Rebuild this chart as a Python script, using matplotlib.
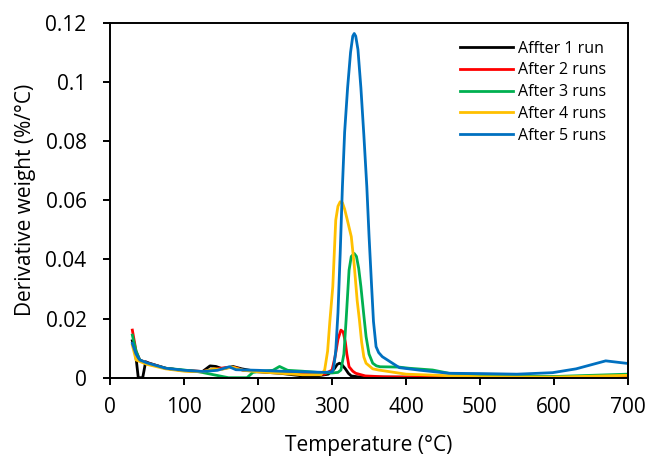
import matplotlib
matplotlib.use('Agg')
import matplotlib.pyplot as plt

plt.rcParams['font.family'] = ['Open Sans', 'DejaVu Sans']

# Derivative weight curves (T in degC, y in %/degC)
t_run1 = [30, 34, 38, 44, 48, 53, 75, 100, 125, 135, 143, 152, 166, 178, 200,
          230, 260, 280, 295, 303, 307, 310, 313, 318, 322, 326, 335, 360, 400,
          500, 600, 700]
y_run1 = [0.0125, 0.009, 0.0, 0.0, 0.0054, 0.0049, 0.0032, 0.0024, 0.0021, 0.004,
          0.0038, 0.003, 0.0038, 0.003, 0.002, 0.0015, 0.0006, 0.0006, 0.0012, 0.003,
          0.0045, 0.0049, 0.0045, 0.003, 0.0015, 0.0006, 0.0003, 0.0002, 0.0002,
          0.0002, 0.0002, 0.0003]

t_run2 = [30, 35, 40, 50, 75, 100, 125, 140, 155, 168, 180, 200, 230, 260, 290,
          300, 304, 308, 312, 315, 318, 320, 323, 328, 332, 345, 370, 400, 500, 600, 700]
y_run2 = [0.0161, 0.009, 0.006, 0.005, 0.0032, 0.0024, 0.0021, 0.0028, 0.0034, 0.0035,
          0.0025, 0.0022, 0.0018, 0.0012, 0.0012, 0.0026, 0.007, 0.013, 0.0161, 0.0155,
          0.012, 0.008, 0.0037, 0.0022, 0.0015, 0.0006, 0.0003, 0.0002, 0.0001, 0.0001,
          0.0003]

t_run3 = [30, 35, 40, 50, 75, 100, 120, 130, 150, 160, 185, 193, 205, 220, 229,
          240, 260, 280, 300, 308, 312, 316, 319, 323, 326, 330, 333, 336, 339, 343,
          346, 350, 355, 360, 365, 390, 404, 436, 458, 500, 600, 700]
y_run3 = [0.0144, 0.009, 0.006, 0.0048, 0.0032, 0.0026, 0.002, 0.0015, 0.0005, 0.0, 0.0,
          0.0018, 0.0022, 0.0025, 0.0038, 0.0025, 0.0022, 0.0018, 0.0016, 0.0018, 0.0026,
          0.008, 0.0195, 0.0364, 0.041, 0.042, 0.041, 0.037, 0.0308, 0.021, 0.0139,
          0.008, 0.0049, 0.004, 0.0037, 0.0036, 0.0032, 0.0026, 0.0015, 0.0006, 0.0004,
          0.0012]

t_run4 = [30, 35, 40, 50, 75, 100, 125, 140, 150, 165, 180, 200, 230, 260, 285,
          290, 294, 297, 301, 305, 308, 311, 314, 317, 320, 326, 330, 334, 337, 340,
          343, 346, 355, 363, 400, 500, 600, 700]
y_run4 = [0.011, 0.006, 0.0055, 0.0045, 0.003, 0.0022, 0.002, 0.003, 0.0028, 0.0036,
          0.0025, 0.002, 0.0015, 0.001, 0.001, 0.0026, 0.009, 0.019, 0.0308, 0.0533,
          0.058, 0.0595, 0.0592, 0.057, 0.054, 0.0477, 0.038, 0.026, 0.0195, 0.012,
          0.007, 0.0049, 0.003, 0.0026, 0.0012, 0.0003, 0.0002, 0.0008]

t_run5 = [30, 35, 40, 50, 75, 100, 125, 145, 161, 170, 200, 230, 260, 290, 300,
          302, 305, 308, 311, 314, 317, 321, 325, 328, 330, 332, 335, 339, 343, 347,
          350, 353.5, 356, 359.5, 363, 368, 391, 420, 458, 500, 550, 598, 630, 670, 697]
y_run5 = [0.0116, 0.008, 0.006, 0.005, 0.0032, 0.0025, 0.0021, 0.0025, 0.0037, 0.0027,
          0.0025, 0.0022, 0.002, 0.0018, 0.002, 0.003, 0.009, 0.022, 0.042, 0.0646,
          0.083, 0.098, 0.110, 0.1155, 0.1164, 0.1155, 0.111, 0.098, 0.082, 0.0646,
          0.048, 0.0308, 0.019, 0.0105, 0.0085, 0.0071, 0.0034, 0.0025, 0.0015, 0.0014,
          0.0012, 0.0017, 0.003, 0.0057, 0.0049]

labels = ['Affter 1 run', 'After 2 runs', 'After 3 runs', 'After 4 runs', 'After 5 runs']
colors = ['#000000', '#FF0000', '#00B050', '#FFC000', '#0070C0']
series = [(t_run1, y_run1), (t_run2, y_run2), (t_run3, y_run3),
          (t_run4, y_run4), (t_run5, y_run5)]

fig = plt.figure(figsize=(6.48, 4.57), dpi=100)
ax = fig.add_axes([0.170, 0.1735, 0.799, 0.7765])

for (t, y), c, lab in zip(series, colors, labels):
    ax.plot(t, y, color=c, linewidth=2.0, label=lab, solid_joinstyle='round')

ax.set_xlim(0, 700)
ax.set_ylim(0, 0.12)
ax.set_xticks(range(0, 701, 100))
ax.set_yticks([0, 0.02, 0.04, 0.06, 0.08, 0.1, 0.12])
ax.set_yticklabels(['0', '0.02', '0.04', '0.06', '0.08', '0.1', '0.12'])
ax.tick_params(labelsize=15, direction='out', length=5, width=1.4)
ax.tick_params(axis='x', pad=9)
ax.tick_params(axis='y', pad=12)
for s in ax.spines.values():
    s.set_linewidth(1.4)

ax.set_xlabel('Temperature (°C)', fontsize=15, labelpad=12)
ax.set_ylabel('Derivative weight (%/°C)', fontsize=15, labelpad=7)

ax.legend(loc='upper left', bbox_to_anchor=(0.676, 0.95), frameon=False,
          fontsize=11.5, handlelength=3.3, labelspacing=0.36, handletextpad=0.3,
          borderpad=0, borderaxespad=0)

fig.savefig('out.png', dpi=100)
